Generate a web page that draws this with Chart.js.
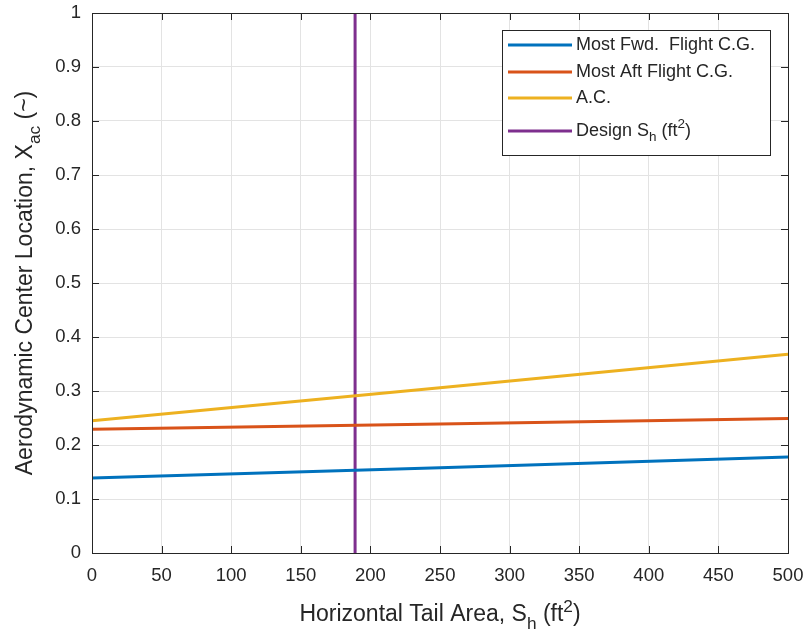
<!DOCTYPE html>
<html>
<head>
<meta charset="utf-8">
<script src="https://cdn.jsdelivr.net/npm/chart.js@4/dist/chart.umd.min.js"></script>
<style>
  html, body { margin: 0; background: #fff; }
  #wrap { width: 804px; height: 633px; }
</style>
</head>
<body>
<div id="wrap"><canvas id="chart"></canvas></div>
<script>
// values
const tailArea = [0, 250, 500];
const fwdCG = [0.139, 0.158, 0.178];
const aftCG = [0.229, 0.239, 0.249];
const acLoc = [0.245, 0.306, 0.368];
const designSh = [189, 189];
const designY = [0, 1];
const xTicks = [0, 50, 100, 150, 200, 250, 300, 350, 400, 450, 500];
const yTicks = [0, 0.1, 0.2, 0.3, 0.4, 0.5, 0.6, 0.7, 0.8, 0.9, 1];

const FONT = '"Liberation Sans", Arial, sans-serif';
const INK = '#262626';

const toPoints = (xs, ys) => xs.map((x, i) => ({ x, y: ys[i] }));

const series = [
  { label: 'Most Fwd. Flight C.G.', data: toPoints(tailArea, fwdCG), color: '#0072BD' },
  { label: 'Most Aft Flight C.G.', data: toPoints(tailArea, aftCG), color: '#D95319' },
  { label: 'A.C.', data: toPoints(tailArea, acLoc), color: '#EDB120' },
  { label: 'Design S_h (ft^2)', data: toPoints(designSh, designY), color: '#7E2F8E' },
];

// draws text with sub / sup pieces, returns width
function richText(ctx, parts, x, y, size) {
  let cx = x;
  for (const p of parts) {
    const s = p.sub || p.sup ? size * 0.75 : size;
    ctx.font = s + 'px ' + FONT;
    const dy = p.sub ? size * 0.35 : p.sup ? -size * 0.4 : 0;
    ctx.fillText(p.t, cx, y + dy);
    cx += ctx.measureText(p.t).width;
  }
  return cx - x;
}
function richWidth(ctx, parts, size) {
  let w = 0;
  for (const p of parts) {
    ctx.font = (p.sub || p.sup ? size * 0.75 : size) + 'px ' + FONT;
    w += ctx.measureText(p.t).width;
  }
  return w;
}

const xTitle = [{ t: 'Horizontal Tail Area, S' }, { t: 'h', sub: 1 }, { t: ' (ft' }, { t: '2', sup: 1 }, { t: ')' }];
const yTitle = [{ t: 'Aerodynamic Center Location, X' }, { t: 'ac', sub: 1 }, { t: ' (~)' }];
const legendText = [
  [{ t: 'Most Fwd.  Flight C.G.' }],
  [{ t: 'Most Aft Flight C.G.' }],
  [{ t: 'A.C.' }],
  [{ t: 'Design S' }, { t: 'h', sub: 1 }, { t: ' (ft' }, { t: '2', sup: 1 }, { t: ')' }],
];

const decor = {
  id: 'decor',
  afterDraw(chart) {
    const { ctx, chartArea: a, scales } = chart;
    ctx.save();
    // inward ticks on all four sides
    ctx.strokeStyle = INK;
    ctx.lineWidth = 1;
    ctx.beginPath();
    xTicks.forEach(v => {
      const px = Math.round(scales.x.getPixelForValue(v)) + 0.5;
      ctx.moveTo(px, a.bottom); ctx.lineTo(px, a.bottom - 7);
      ctx.moveTo(px, a.top); ctx.lineTo(px, a.top + 7);
    });
    yTicks.forEach(v => {
      const py = Math.round(scales.y.getPixelForValue(v)) + 0.5;
      ctx.moveTo(a.left, py); ctx.lineTo(a.left + 7, py);
      ctx.moveTo(a.right, py); ctx.lineTo(a.right - 7, py);
    });
    ctx.stroke();
    // axes box
    ctx.strokeRect(Math.round(a.left) + 0.5, Math.round(a.top) + 0.5,
      Math.round(a.right - a.left), Math.round(a.bottom - a.top));

    // axis titles
    ctx.fillStyle = INK;
    ctx.textBaseline = 'alphabetic';
    ctx.textAlign = 'left';
    const ts = 23;
    const xw = richWidth(ctx, xTitle, ts);
    richText(ctx, xTitle, (a.left + a.right) / 2 - xw / 2, 621, ts);
    ctx.save();
    ctx.translate(32, (a.top + a.bottom) / 2);
    ctx.rotate(-Math.PI / 2);
    const yw = richWidth(ctx, yTitle, ts);
    richText(ctx, yTitle, -yw / 2, 0, ts);
    ctx.restore();

    // legend box
    const lx = 502, ly = 30, lw = 268, lh = 125;
    ctx.fillStyle = '#fff';
    ctx.fillRect(lx, ly, lw, lh);
    ctx.strokeStyle = INK;
    ctx.strokeRect(lx + 0.5, ly + 0.5, lw, lh);
    const rows = [45, 72, 98, 131];
    series.forEach((s, i) => {
      ctx.strokeStyle = s.color;
      ctx.lineWidth = 3;
      ctx.beginPath();
      ctx.moveTo(508, rows[i]); ctx.lineTo(572, rows[i]);
      ctx.stroke();
      ctx.fillStyle = INK;
      ctx.textBaseline = 'middle';
      richText(ctx, legendText[i], 576, rows[i], 18);
    });
    ctx.restore();
  }
};

new Chart(document.getElementById('chart'), {
  type: 'scatter',
  data: {
    datasets: series.map(s => ({
      label: s.label,
      data: s.data,
      showLine: true,
      borderColor: s.color,
      backgroundColor: s.color,
      borderWidth: 3,
      pointRadius: 0,
      tension: 0,
    })),
  },
  options: {
    responsive: true,
    maintainAspectRatio: false,
    animation: false,
    layout: { padding: { left: 0, right: 16, top: 13, bottom: 0 } },
    plugins: { legend: { display: false }, tooltip: { enabled: false } },
    scales: {
      x: {
        type: 'linear', min: 0, max: 500,
        afterBuildTicks: s => { s.ticks = xTicks.map(v => ({ value: v })); },
        afterFit: s => { s.height = 80; s.paddingLeft = 0; s.paddingRight = 0; },
        grid: { color: '#e3e3e3', tickLength: 0, drawTicks: false },
        border: { display: false },
        ticks: { color: INK, padding: 12, font: { family: FONT, size: 18.5 }, maxRotation: 0, callback: v => String(v) },
      },
      y: {
        type: 'linear', min: 0, max: 1,
        afterBuildTicks: s => { s.ticks = yTicks.map(v => ({ value: v })); },
        afterFit: s => { s.width = 92; s.paddingTop = 0; s.paddingBottom = 0; },
        grid: { color: '#e3e3e3', tickLength: 0, drawTicks: false },
        border: { display: false },
        ticks: { color: INK, padding: 11, font: { family: FONT, size: 18.5 }, callback: v => String(v) },
      },
    },
  },
  plugins: [decor],
});
</script>
</body>
</html>
